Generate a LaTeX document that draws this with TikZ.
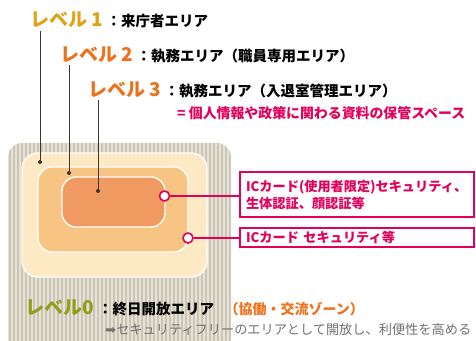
\documentclass[tikz,border=0pt]{standalone}
\usepackage{fontspec}
\setmainfont{Noto Sans CJK JP}
\newfontfamily\symfont{DejaVu Sans}
\usetikzlibrary{positioning}
\usepackage{xcolor}

\definecolor{lvgold}{HTML}{DFA216}
\definecolor{lvorange}{HTML}{EE7019}
\definecolor{lvgreen}{HTML}{8CA01A}
\definecolor{secpink}{HTML}{E3005B}
\definecolor{zoneA}{HTML}{FDE9C4}
\definecolor{zoneB}{HTML}{F8C483}
\definecolor{zoneC}{HTML}{F09A62}
\definecolor{stripeA}{HTML}{E6E2D6}
\definecolor{stripeB}{HTML}{CBC5B5}
\definecolor{leadgray}{HTML}{3E3531}
\definecolor{notegray}{HTML}{707070}

\begin{document}
\begin{tikzpicture}[x=1pt, y=-1pt,
        zone/.style={rectangle, draw=white, line width=1.4pt, rounded corners=14pt, inner sep=0pt},
        lvlabel/.style={font=\fontsize{19}{19}\selectfont\bfseries, inner sep=0pt, anchor=base west},
        areatext/.style={font=\fontsize{14.5}{14.5}\selectfont\bfseries, inner sep=0pt, anchor=base west},
        secbox/.style={rectangle, draw=secpink, line width=1.4pt, text=secpink, font=\fontsize{13.2}{17}\selectfont\bfseries, text width=222pt, align=left, inner xsep=6pt, inner ysep=0pt},
        marker/.style={circle, draw=secpink, line width=1.6pt, fill=white, minimum size=10pt, inner sep=0pt},
        leader/.style={leadgray, line width=1pt},
        secline/.style={secpink, line width=1.4pt}
    ]
        \useasboundingbox (0,0) rectangle (476,340);
        \clip (0,0) rectangle (476,340);

        % Level 0 area (striped)
        \begin{scope}
            \clip[rounded corners=14pt] (8,143) rectangle (231,356);
            \fill[stripeA] (8,143) rectangle (231,356);
            \foreach \x in {9,13,...,229}
                \fill[stripeB] (\x,143) rectangle +(2,213);
        \end{scope}

        % Zones
        \node (z1) [zone, fill=zoneA, minimum width=185pt, minimum height=124pt, rounded corners=16pt] at (114.5,215) {};
        \node (z2) [zone, fill=zoneB, minimum width=150pt, minimum height=85pt] at (113,209.5) {};
        \node (z3) [zone, fill=zoneC, minimum width=103pt, minimum height=50pt] at (113.5,202) {};

        % Labels
        \node (lv1) [lvlabel, text=lvgold] at (30,27) {レベル 1};
        \node (lv1t) [areatext, right=3pt of lv1.base east, anchor=base west] {：来庁者エリア};
        \node (lv2) [lvlabel, text=lvorange] at (60,61) {レベル 2};
        \node (lv2t) [areatext, right=3pt of lv2.base east, anchor=base west] {：執務エリア（職員専用エリア）};
        \node (lv3) [lvlabel, text=lvorange] at (88,96) {レベル 3};
        \node (lv3t) [areatext, right=3pt of lv3.base east, anchor=base west] {：執務エリア（入退室管理エリア）};
        \node (lv3n) [areatext, font=\fontsize{13.9}{13.9}\selectfont\bfseries, text=secpink] at (177,118) {= 個人情報や政策に関わる資料の保管スペース};
        \node (lv0) [lvlabel, text=lvgreen] at (25,314) {レベル0};
        \node (lv0t) [areatext, right=4pt of lv0.base east, anchor=base west] {：終日開放エリア};
        \node (lv0z) [areatext, font=\fontsize{14}{14}\selectfont\bfseries, text=lvorange, right=10pt of lv0t.base east, anchor=base west] {（協働・交流ゾーン）};
        \node (lv0n) [areatext, font=\fontsize{13.2}{13.2}\selectfont, text=notegray] at (105,334) {{\symfont ➡}セキュリティフリーのエリアとして開放し、利便性を高める};

        % Security boxes
        \node (sec1) [secbox, minimum height=45pt] at (357,194.5) {ICカード(使用者限定)セキュリティ、\\生体認証、顔認証等};
        \node (sec2) [secbox, minimum height=19pt] at (357,237.5) {ICカード セキュリティ等};

        % Leader lines
        \coordinate (d1) at (40,162);
        \coordinate (d2) at (69,173);
        \coordinate (d3) at (98,191);
        \draw [leader] (d1) -- ([yshift=-3pt]d1 |- lv1.south);
        \draw [leader] (d2) -- ([yshift=-3pt]d2 |- lv2.south);
        \draw [leader] (d3) -- ([yshift=-3pt]d3 |- lv3.south);
        \foreach \d in {d1,d2,d3}
            \fill[leadgray] (\d) circle (2pt);

        % Markers
        \node (c1) [marker] at (164.5,196) {};
        \node (c2) [marker] at (188,238) {};
        \draw [secline] (c1) -- (c1 -| sec1.west);
        \draw [secline] (c2) -- (c2 -| sec2.west);
\end{tikzpicture}
\end{document}
